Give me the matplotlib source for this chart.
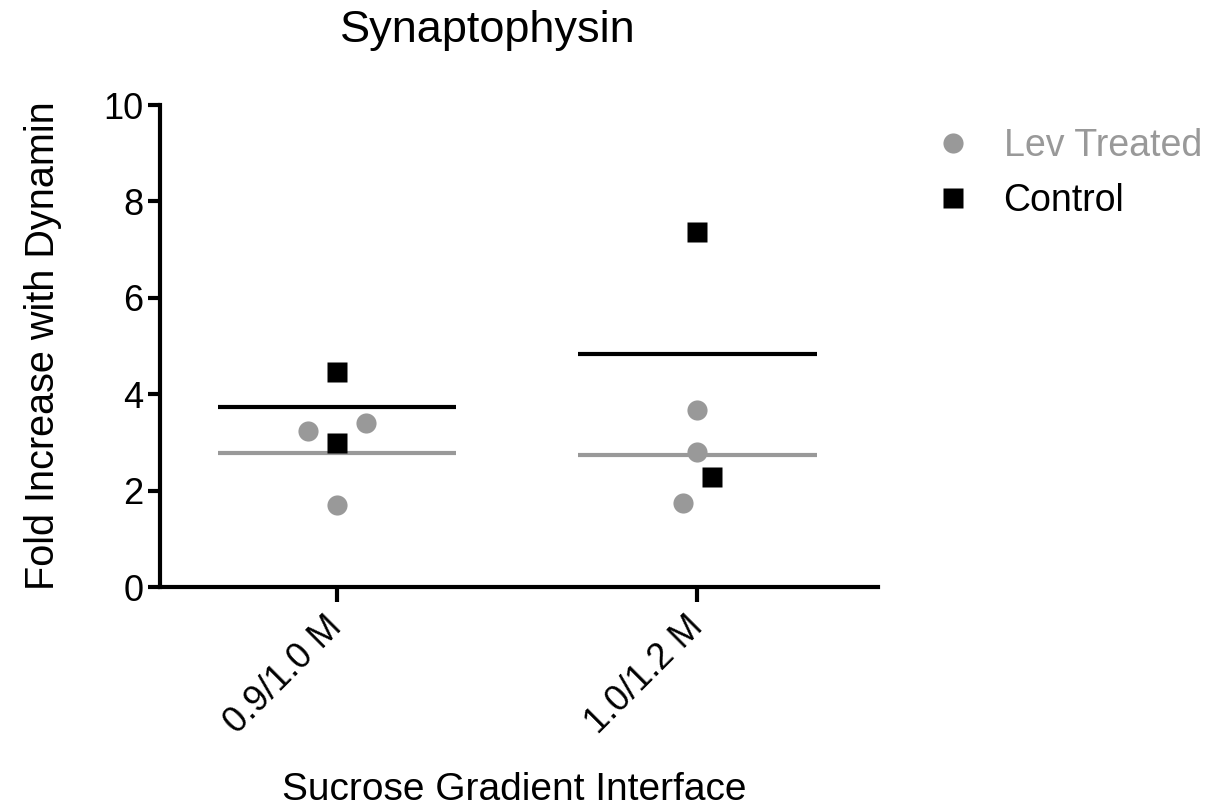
import numpy as np
import matplotlib.pyplot as plt
import matplotlib.transforms as mtransforms

plt.rcParams['font.family'] = ['Liberation Sans', 'DejaVu Sans']

# data
categories = ["0.9/1.0 M", "1.0/1.2 M"]
lev_treated = [[3.24, 3.40, 1.70], [3.67, 2.80, 1.74]]
control = [[4.46, 2.99], [7.37, 2.28]]

# horizontal spread of overlapping points (category units)
lev_offsets = [[-0.08, 0.08, 0.0], [0.0, 0.0, -0.04]]
ctrl_offsets = [[0.0, 0.0], [0.0, 0.04]]

gray = "#999999"

fig = plt.figure(figsize=(12.25, 8.09), dpi=100)
ax = fig.add_axes([0.1306, 0.2744, 0.586, 0.5958])

for i in range(len(categories)):
    xs = i + np.array(lev_offsets[i])
    ax.plot(xs, lev_treated[i], 'o', color=gray, markersize=14.5, mec='none', zorder=3)
    xs = i + np.array(ctrl_offsets[i])
    ax.plot(xs, control[i], 's', color='black', markersize=14, mec='none', zorder=3)
    ax.hlines(np.mean(lev_treated[i]), i - 0.33, i + 0.33, color=gray, lw=3, zorder=2)
    ax.hlines(np.mean(control[i]), i - 0.33, i + 0.33, color='black', lw=3, zorder=2)

ax.set_xlim(-0.49, 1.5)
ax.set_ylim(0, 10)
ax.set_yticks([0, 2, 4, 6, 8, 10])
ax.set_xticks(range(len(categories)))
ax.set_xticklabels(categories, rotation=45, ha='right', va='center',
                   rotation_mode='anchor', fontsize=26)
shift = mtransforms.ScaledTranslation(-11 / 100, 0, fig.dpi_scale_trans)
for lbl in ax.get_xticklabels():
    lbl.set_transform(lbl.get_transform() + shift)
ax.tick_params(axis='y', labelsize=26, width=3, length=9, pad=3)
ax.tick_params(axis='x', width=3, length=11, pad=14)

for s in ['top', 'right']:
    ax.spines[s].set_visible(False)
for s in ['left', 'bottom']:
    ax.spines[s].set_linewidth(3)

ax.set_ylabel("Fold Increase with Dynamin", fontsize=28.5, labelpad=30)
fig.text(0.398, 0.962, "Synaptophysin", fontsize=32.5, ha='center', va='center')
fig.text(0.42, 0.024, "Sucrose Gradient Interface", fontsize=28, ha='center', va='center')

h1, = ax.plot([], [], 'o', color=gray, markersize=14.5, mec='none')
h2, = ax.plot([], [], 's', color='black', markersize=14, mec='none')
leg = fig.legend([h1, h2], ["Lev Treated", "Control"], loc='upper left',
                 bbox_to_anchor=(0.732, 0.883), frameon=False, fontsize=27,
                 handletextpad=0.75, labelspacing=0.5, handlelength=1.2)
leg.get_texts()[0].set_color(gray)

fig.savefig("out.png", dpi=100)
